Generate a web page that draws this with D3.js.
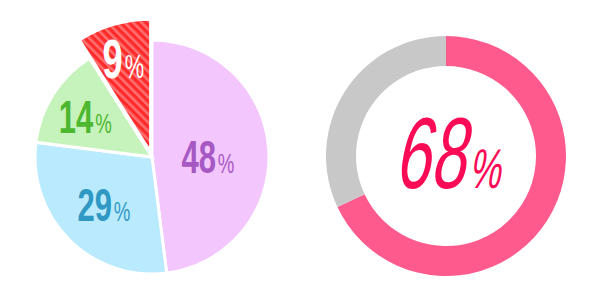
<!DOCTYPE html>
<html>
<head>
<meta charset="utf-8">
<script src="https://cdn.jsdelivr.net/npm/d3@7"></script>
<style>
  html, body { margin: 0; padding: 0; background: #fff; }
  svg { display: block; }
</style>
</head>
<body>
<svg id="chart" width="600" height="300"></svg>
<script>
// pie chart data (clockwise from 12 o'clock)
const pieLabels = ["48", "29", "14", "9"];
const pieValues = [48, 29, 14, 9];
const pieFill = ["#f3c6fd", "#b9eafd", "#c6f3bb", "url(#stripes)"];
const pieText = ["#a659c2", "#2f98c3", "#4db730", "#ffffff"];

// donut data
const donutValues = [68, 32];
const donutFill = ["#ff5a8d", "#c8c8c8"];

const svg = d3.select("#chart");

// red striped pattern for the highlighted slice
const defs = svg.append("defs");
const pat = defs.append("pattern")
    .attr("id", "stripes")
    .attr("patternUnits", "userSpaceOnUse")
    .attr("width", 6)
    .attr("height", 6)
    .attr("patternTransform", "rotate(-45)");
pat.append("rect").attr("width", 6).attr("height", 6).attr("fill", "#ff2b2b");
pat.append("rect").attr("width", 2.6).attr("height", 6).attr("fill", "#ff7070");

// ---- left pie ----
const pieG = svg.append("g").attr("transform", "translate(152,157)");
const pie = d3.pie().sort(null).value(d => d)(pieValues);

const radius = 117;
const bigRadius = 133; // the exploded slice is drawn larger
const explode = 5;
const labelRadius = [56, 68, 79, 98];
const labelDrop = [0.42, 0.34, 0.38, 0.36];

const arcFor = i => d3.arc().innerRadius(0).outerRadius(i === 3 ? bigRadius : radius);

pie.forEach((d, i) => {
  const mid = (d.startAngle + d.endAngle) / 2;
  const off = i === 3 ? explode : 0;
  const dx = Math.sin(mid) * off, dy = -Math.cos(mid) * off;
  pieG.append("path")
    .attr("d", arcFor(i)(d))
    .attr("transform", `translate(${dx},${dy})`)
    .attr("fill", pieFill[i])
    .attr("stroke", "#fff")
    .attr("stroke-width", 3)
    .attr("stroke-linejoin", "miter");
});

pie.forEach((d, i) => {
  const mid = (d.startAngle + d.endAngle) / 2;
  const r = labelRadius[i] + (i === 3 ? explode : 0);
  const x = Math.sin(mid) * r, y = -Math.cos(mid) * r;
  const big = i === 3 ? 55 : 47;
  const t = pieG.append("text")
    .attr("transform", `translate(${x},${y + big * labelDrop[i]}) scale(0.66,1)`)
    .attr("text-anchor", "middle")
    .attr("font-family", "'Liberation Sans', Arial, sans-serif")
    .attr("font-weight", "bold")
    .attr("fill", pieText[i]);
  t.append("tspan").attr("font-size", big).text(pieLabels[i]);
  t.append("tspan").attr("font-size", big * 0.6).attr("font-weight", "normal").attr("dx", 3).text("%");
});

// ---- right donut ----
const donutG = svg.append("g").attr("transform", "translate(446,156)");
const donut = d3.pie().sort(null).value(d => d)(donutValues);
const ring = d3.arc().innerRadius(90).outerRadius(120);

donutG.selectAll("path")
  .data(donut)
  .join("path")
    .attr("d", ring)
    .attr("fill", (d, i) => donutFill[i]);

const center = donutG.append("text")
    .attr("transform", "translate(1,32) skewX(-11) scale(0.63,1)")
    .attr("text-anchor", "middle")
    .attr("font-family", "'Liberation Sans', Arial, sans-serif")
    .attr("fill", "#fb0a56");
center.append("tspan").attr("font-size", 101).text(donutValues[0]);
center.append("tspan").attr("font-size", 56).attr("dx", 6).text("%");
</script>
</body>
</html>
